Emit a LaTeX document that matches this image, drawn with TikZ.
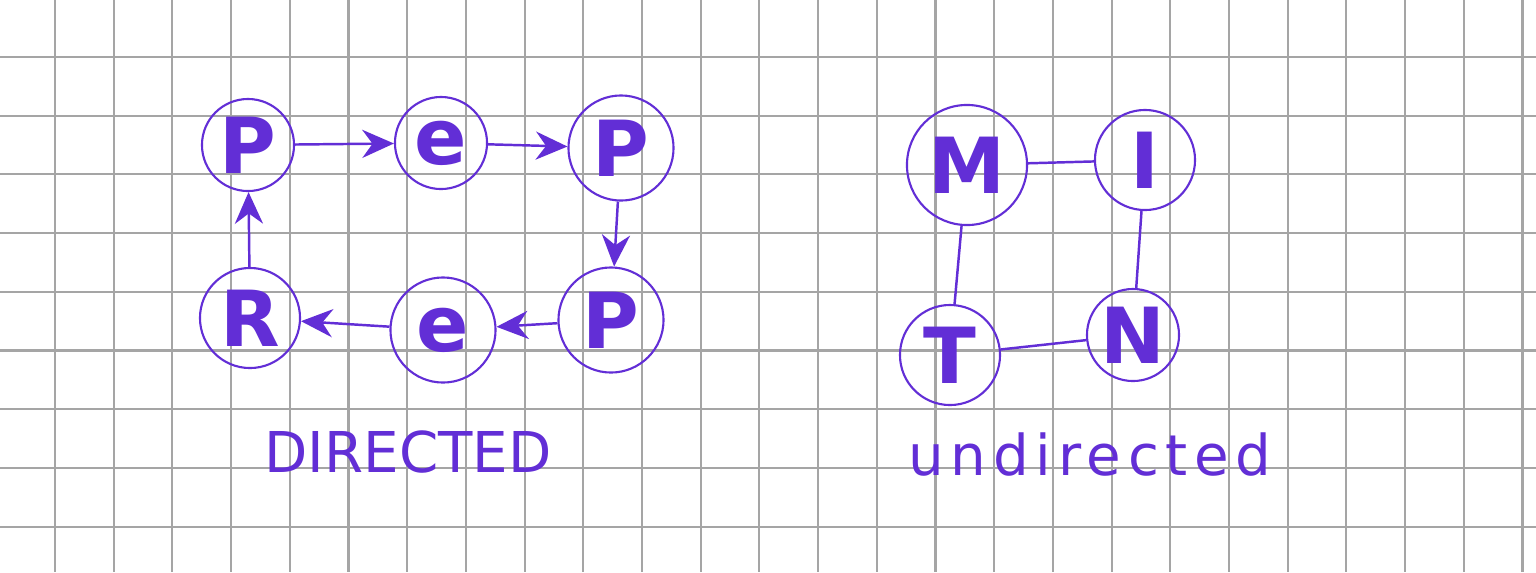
\documentclass[tikz,border=0pt]{standalone}
\usepackage{fontspec}
\setmainfont{DejaVu Sans}
\usetikzlibrary{arrows.meta,positioning}
\definecolor{inkpurple}{RGB}{98,46,214}
\definecolor{gridgray}{RGB}{165,165,165}

\begin{document}
\begin{tikzpicture}[
    x=0.01cm, y=-0.01cm,
    vertex/.style={circle, draw=inkpurple, line width=0.6pt, text=inkpurple, minimum size=0.92cm, inner sep=0pt, font=\fontsize{22}{24}\selectfont\bfseries},
    arrow/.style={-{Stealth[length=9pt,width=8pt]}, draw=inkpurple, line width=0.7pt},
    link/.style={draw=inkpurple, line width=0.7pt},
    caption/.style={text=inkpurple, font=\fontsize{16}{18}\selectfont}
]

% Paper and grid
\useasboundingbox[fill=white] (0,0) rectangle (1536,572);
\foreach \i in {0,...,25}
    \draw[gridgray, line width=0.6pt] ({55+58.7*\i},0) -- ({55+58.7*\i},572);
\foreach \j in {0,...,8}
    \draw[gridgray, line width=0.6pt] (0,{57+58.7*\j}) -- (1536,{57+58.7*\j});

% Directed graph
\node[vertex] (p-top-left) at (248,145) {P};
\node[vertex] (e-top) at (441,143) {e};
\node[vertex, minimum size=1.05cm] (p-top-right) at (621,148) {P};
\node[vertex, minimum size=1.05cm] (p-bottom-right) at (611,320) {P};
\node[vertex, minimum size=1.05cm] (e-bottom) at (443,330) {e};
\node[vertex, minimum size=1cm] (r-bottom-left) at (250,318) {R};

% Undirected graph
\node[vertex, minimum size=1.2cm] (m) at (967,165) {M};
\node[vertex, minimum size=1cm] (i) at (1145,160) {I};
\node[vertex, minimum size=1cm] (t) at (950,355) {T};
\node[vertex] (n) at (1133,335) {N};

% Captions
\node[caption] (directed-label) at (408,452) {DIRECTED};
\node[caption] (undirected-label) at (1090,455) {\addfontfeature{LetterSpace=12}undirected};

% Arrows
\draw[arrow] (p-top-left) -- (e-top);
\draw[arrow] (e-top) -- (p-top-right);
\draw[arrow] (p-top-right) -- (p-bottom-right);
\draw[arrow] (p-bottom-right) -- (e-bottom);
\draw[arrow] (e-bottom) -- (r-bottom-left);
\draw[arrow] (r-bottom-left) -- (p-top-left);

% Edges
\draw[link] (m) -- (i);
\draw[link] (i) -- (n);
\draw[link] (n) -- (t);
\draw[link] (t) -- (m);

\end{tikzpicture}
\end{document}
